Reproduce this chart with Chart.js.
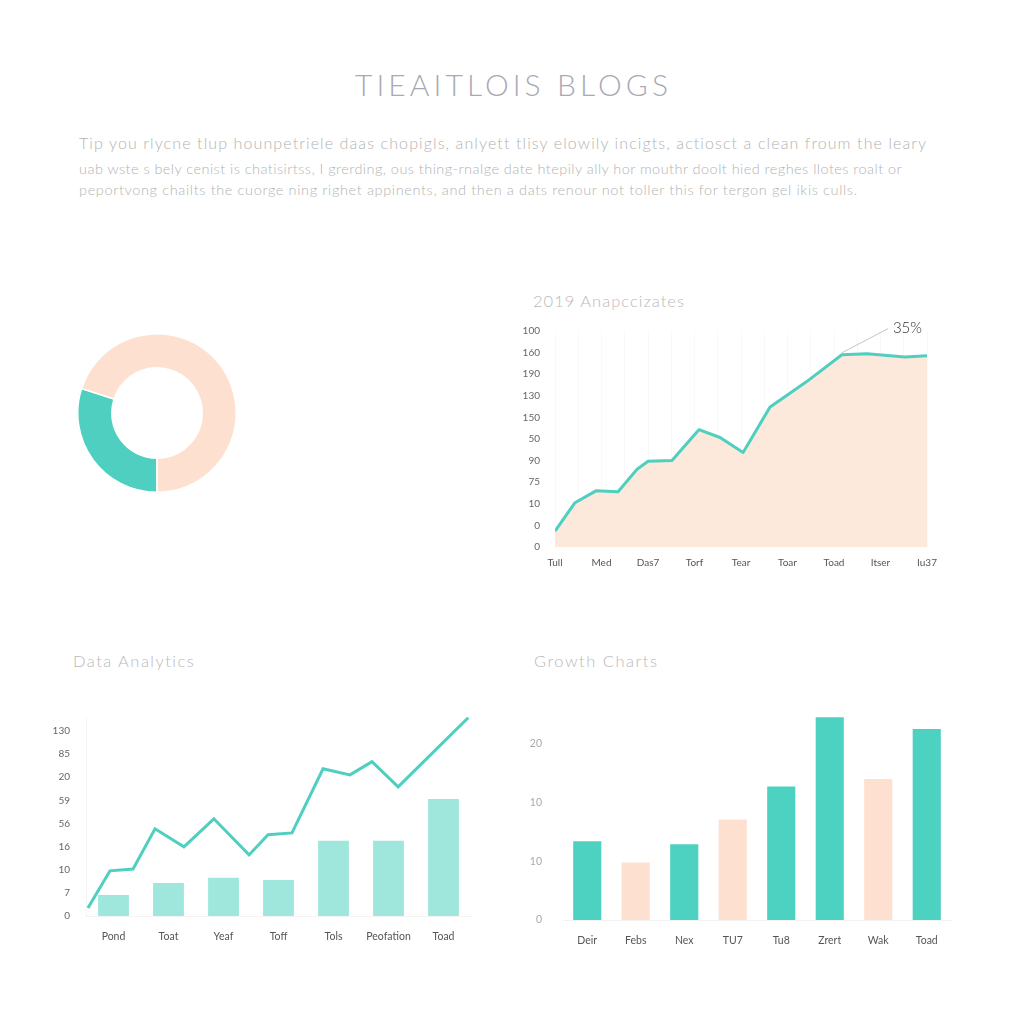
<!DOCTYPE html>
<html>
<head>
<meta charset="utf-8">
<script src="https://cdn.jsdelivr.net/npm/chart.js@4/dist/chart.umd.min.js"></script>
<style>
  html, body { margin:0; padding:0; background:#ffffff; }
  body { width:1024px; height:1024px; position:relative; overflow:hidden; font-family: Lato, "Open Sans", "Noto Sans", sans-serif; }
  .abs { position:absolute; }
  #title { top:66px; font-size:30px; font-weight:300; color:#a9a9b3; white-space:nowrap; }
  .para { left:79px; color:#b3b3b3; font-weight:300; white-space:nowrap; }
  .ctitle { font-size:16.5px; font-weight:300; color:#b9b9b9; white-space:nowrap; }
  canvas { position:absolute; }
</style>
</head>
<body>
<div id="title" class="abs fit" data-w="313" style="left:355px;">TIEAITLOIS BLOGS</div>
<div class="abs para fit" data-w="847" style="top:133px;font-size:16px;">Tip you rlycne tlup hounpetriele daas chopigls, anlyett tlisy elowily incigts, actiosct a clean froum the leary</div>
<div class="abs para fit" data-w="823" style="top:160px;font-size:14.5px;">uab wste s bely cenist is chatisirtss, I grerding, ous thing-rnalge date htepily ally hor mouthr doolt hied reghes llotes roalt or</div>
<div class="abs para fit" data-w="778" style="top:181px;font-size:14.5px;">peportvong chailts the cuorge ning righet appinents, and then a dats renour not toller this for tergon gel ikis culls.</div>

<div class="abs ctitle fit" data-w="151" style="left:533px;top:291px;">2019 Anapccizates</div>
<div class="abs ctitle fit" data-w="121" style="left:73px;top:651px;">Data Analytics</div>
<div class="abs ctitle fit" data-w="123" style="left:534px;top:651px;">Growth Charts</div>

<canvas id="donut" width="160" height="160" style="left:77px;top:333px;"></canvas>
<canvas id="area" width="440" height="259" style="left:520px;top:318px;"></canvas>
<canvas id="combo" width="446" height="249" style="left:40px;top:700px;"></canvas>
<canvas id="bars" width="453" height="260" style="left:510px;top:695px;"></canvas>

<script>
// ---------- data ----------
const donutLabels = ["Teal", "Peach"];
const donutValues = [30, 70];

const areaYLabels = ["0", "0", "10", "75", "90", "50", "150", "130", "190", "160", "100"]; // bottom -> top
const areaXLabels = ["Tull", "Med", "Das7", "Torf", "Tear", "Toar", "Toad", "Itser", "Iu37"];
const areaX = [0, 0.86, 1.76, 2.71, 3.53, 4.0, 5.03, 6.19, 7.1, 8.09, 9.25, 9.98, 10.84, 12.34, 13.42, 15.05, 16];
const areaY = [0.73, 2.05, 2.6, 2.56, 3.6, 3.97, 4.0, 5.43, 5.07, 4.38, 6.48, 7.03, 7.67, 8.9, 8.95, 8.8, 8.86];
const areaNote = "35%";
const areaNoteIndex = 13;

const comboYLabels = ["0", "7", "10", "16", "56", "59", "20", "85", "130"]; // bottom -> top
const comboCats = ["Pond", "Toat", "Yeaf", "Toff", "Tols", "Peofation", "Toad"];
const comboBars = [0.91, 1.43, 1.65, 1.56, 3.25, 3.25, 5.06];
const comboLineX = [0.07, 0.87, 1.71, 2.51, 3.56, 4.65, 5.93, 6.62, 7.49, 8.62, 9.6, 10.4, 11.35, 13.9];
const comboLineY = [0.35, 1.95, 2.03, 3.77, 2.99, 4.2, 2.64, 3.51, 3.59, 6.36, 6.1, 6.67, 5.58, 8.57];

const growthYLabels = ["0", "10", "10", "20"]; // bottom -> top
const growthCats = ["Deir", "Febs", "Nex", "TU7", "Tu8", "Zrert", "Wak", "Toad"];
const growthValues = [1.34, 0.98, 1.29, 1.71, 2.27, 3.45, 2.4, 3.25];
const growthGroup = ["t", "p", "t", "p", "t", "t", "p", "t"];

// ---------- text fitting (letter-spacing only) ----------
document.querySelectorAll(".fit").forEach(el => {
  const target = parseFloat(el.dataset.w);
  const n = el.textContent.length;
  const w = el.getBoundingClientRect().width;
  const ls = (target - w) / Math.max(1, n - 1);
  el.style.letterSpacing = ls.toFixed(3) + "px";
});

// ---------- styles ----------
const TEAL = "#4ecfc0";
const PEACH = "#fde0cf";
const LIGHTTEAL = "#9fe7dc";
const FONT = "Lato, 'Open Sans', 'Noto Sans', sans-serif";
Chart.defaults.font.family = FONT;
Chart.defaults.animation = false;
Chart.defaults.responsive = false;
Chart.defaults.plugins.legend.display = false;
Chart.defaults.plugins.tooltip.enabled = false;

// donut
new Chart(document.getElementById("donut"), {
  type: "doughnut",
  data: { labels: donutLabels, datasets: [{ data: donutValues, backgroundColor: [TEAL, PEACH], borderColor: "#ffffff", borderWidth: 1.5 }] },
  options: { rotation: 180, cutout: "57%", layout: { padding: 0 } }
});

// area chart
const notePlugin = {
  id: "note",
  afterDatasetsDraw(chart) {
    const meta = chart.getDatasetMeta(0);
    const p = meta.data[areaNoteIndex];
    const ctx = chart.ctx;
    ctx.save();
    ctx.strokeStyle = "#b5b5b5";
    ctx.lineWidth = 0.8;
    ctx.beginPath();
    ctx.moveTo(p.x, p.y - 2);
    ctx.lineTo(p.x + 46, p.y - 26);
    ctx.stroke();
    ctx.fillStyle = "#333333";
    ctx.font = "300 15px " + FONT;
    ctx.textBaseline = "middle";
    ctx.fillText(areaNote, p.x + 51, p.y - 27);
    ctx.restore();
  }
};
new Chart(document.getElementById("area"), {
  type: "line",
  data: { datasets: [{
    data: areaX.map((x, i) => ({ x: x, y: areaY[i] })),
    borderColor: TEAL, borderWidth: 3, backgroundColor: "#fde8dc", fill: "origin",
    pointRadius: 0, tension: 0, borderJoinStyle: "round"
  }] },
  options: {
    layout: { padding: { top: 10, right: 33, left: 0, bottom: 0 } },
    scales: {
      x: { type: "linear", min: 0, max: 16,
        afterBuildTicks: s => { s.ticks = []; for (let i = 0; i <= 16; i++) s.ticks.push({ value: i }); },
        afterFit: s => { s.height = 30; },
        ticks: { stepSize: 1, autoSkip: false, maxRotation: 0, padding: 10, color: "#555", font: { size: 10 },
          callback: v => (v % 2 === 0 ? areaXLabels[v / 2] : "") },
        grid: { color: "rgba(0,0,0,0.025)", drawTicks: false }, border: { display: false } },
      y: { min: 0, max: 10,
        afterBuildTicks: s => { s.ticks = []; for (let i = 0; i <= 10; i++) s.ticks.push({ value: i }); },
        afterFit: s => { s.width = 35; },
        ticks: { padding: 7, color: "#666", font: { size: 10 }, callback: v => areaYLabels[v] },
        grid: { display: false }, border: { display: false } }
    }
  },
  plugins: [notePlugin]
});

// combo chart
new Chart(document.getElementById("combo"), {
  data: {
    labels: comboCats,
    datasets: [
      { type: "line", xAxisID: "x2", data: comboLineX.map((x, i) => ({ x: x, y: comboLineY[i] })),
        borderColor: TEAL, borderWidth: 3, pointRadius: 0, fill: false, tension: 0, order: 0 },
      { type: "bar", xAxisID: "x", data: comboBars, backgroundColor: LIGHTTEAL, grouped: false,
        barPercentage: 0.56, categoryPercentage: 1, order: 1 }
    ]
  },
  options: {
    layout: { padding: { top: 17, right: 15, left: 0, bottom: 0 } },
    scales: {
      x: { type: "category", afterFit: s => { s.height = 33; },
        ticks: { padding: 14, color: "#555", font: { size: 10.5 }, maxRotation: 0, autoSkip: false },
        grid: { display: false, drawTicks: false }, border: { display: true, color: "rgba(0,0,0,0.05)" } },
      x2: { type: "linear", min: 0, max: 14, display: false },
      y: { min: 0, max: 8.6,
        afterBuildTicks: s => { s.ticks = []; for (let i = 0; i <= 8; i++) s.ticks.push({ value: i }); },
        afterFit: s => { s.width = 46; },
        ticks: { padding: 8, color: "#666", font: { size: 10 }, callback: v => comboYLabels[v] },
        grid: { display: false }, border: { display: true, color: "rgba(0,0,0,0.04)" } }
    }
  }
});

// growth bars
new Chart(document.getElementById("bars"), {
  type: "bar",
  data: { labels: growthCats, datasets: [{ data: growthValues,
    backgroundColor: growthGroup.map(g => (g === "t" ? "#4dd1c0" : PEACH)),
    barPercentage: 0.58, categoryPercentage: 1 }] },
  options: {
    layout: { padding: { top: 14, right: 12, left: 0, bottom: 0 } },
    scales: {
      x: { afterFit: s => { s.height = 35; },
        ticks: { padding: 14, color: "#555", font: { size: 10.5 }, maxRotation: 0, autoSkip: false },
        grid: { display: false, drawTicks: false }, border: { display: true, color: "rgba(0,0,0,0.05)" } },
      y: { min: 0, max: 3.5,
        afterBuildTicks: s => { s.ticks = []; for (let i = 0; i <= 3; i++) s.ticks.push({ value: i }); },
        afterFit: s => { s.width = 53; },
        ticks: { padding: 13, color: "#aaa", font: { size: 10.5 }, callback: v => growthYLabels[v] },
        grid: { display: false }, border: { display: false } }
    }
  }
});
</script>
</body>
</html>
